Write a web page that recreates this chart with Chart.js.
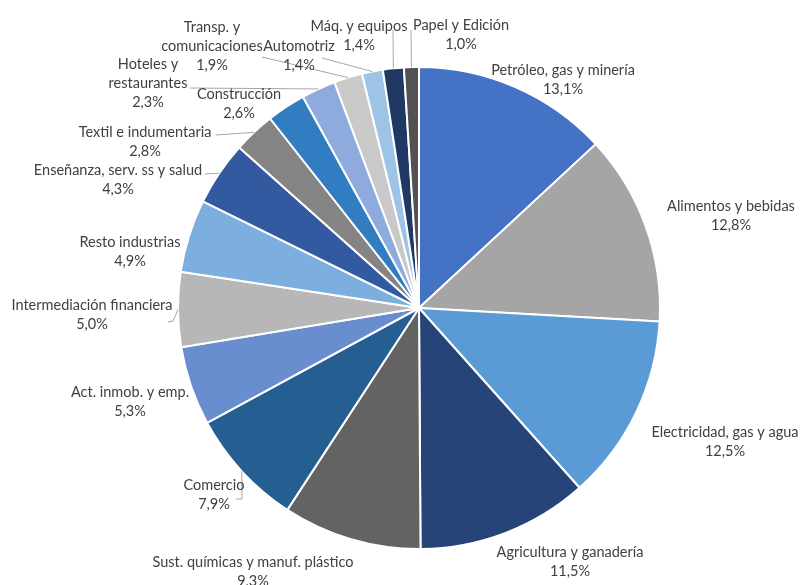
<!DOCTYPE html>
<html>
<head>
<meta charset="utf-8">
<script src="https://cdn.jsdelivr.net/npm/chart.js@4/dist/chart.umd.min.js"></script>
<style>
  html, body { margin: 0; padding: 0; background: #fff; }
  canvas { display: block; }
</style>
</head>
<body>
<canvas id="sectorChart" width="803" height="585"></canvas>
<script>
// Participación por sector (%)
const sectors = [
    ['Petróleo, gas y minería'],
    ['Alimentos y bebidas'],
    ['Electricidad, gas y agua'],
    ['Agricultura y ganadería'],
    ['Sust. químicas y manuf. plástico'],
    ['Comercio'],
    ['Act. inmob. y emp.'],
    ['Intermediación financiera'],
    ['Resto industrias'],
    ['Enseñanza, serv. ss y salud'],
    ['Textil e indumentaria'],
    ['Construcción'],
    ['Hoteles y', 'restaurantes'],
    ['Transp. y', 'comunicaciones'],
    ['Automotriz'],
    ['Máq. y equipos'],
    ['Papel y Edición']
];
const shares = [13.1, 12.8, 12.5, 11.5, 9.3, 7.9, 5.3, 5.0, 4.9, 4.3, 2.8, 2.6, 2.3, 1.9, 1.4, 1.4, 1.0];
const sliceColors = [
    '#4472C4', '#A5A5A5', '#5B9BD5', '#264478', '#636363', '#255E91',
    '#698ED0', '#B7B7B7', '#7CAFDD', '#335AA1', '#848484', '#327DC2',
    '#8FAADC', '#C9C9C9', '#9DC3E6', '#203864', '#525252'
];

// where each label's first line is centred
const labelAt = [
    [563, 70], [731, 206], [725, 432], [570, 552], [253, 562], [214, 485],
    [130, 392], [92, 305], [130, 242], [118, 170], [145, 132], [239, 94],
    [148, 64], [212, 27], [299, 46], [359, 26], [461, 25]
];
// leader line waypoints, starting from the slice edge
const leaders = {
    5: [[242, 499], [236, 499]],
    7: [[173, 321], [168, 322]],
    9: [[205, 174]],
    10: [[216, 135]],
    12: [[190, 88]],
    13: [[262, 57]],
    14: [[322, 58]],
    15: [[393, 30]],
    16: [[411, 30]]
};

const LINE_H = 19;

const sliceLabels = {
    id: 'sliceLabels',
    afterDatasetsDraw(chart) {
        const ctx = chart.ctx;
        const arcs = chart.getDatasetMeta(0).data;
        ctx.save();

        // leader lines
        ctx.strokeStyle = '#A6A6A6';
        ctx.lineWidth = 1;
        arcs.forEach((arc, i) => {
            const pts = leaders[i];
            if (!pts) return;
            const p = arc.getProps(['x', 'y', 'startAngle', 'endAngle', 'outerRadius'], true);
            const mid = (p.startAngle + p.endAngle) / 2;
            ctx.beginPath();
            ctx.moveTo(p.x + Math.cos(mid) * p.outerRadius, p.y + Math.sin(mid) * p.outerRadius);
            pts.forEach(pt => ctx.lineTo(pt[0], pt[1]));
            ctx.stroke();
        });

        // names and percentages
        ctx.fillStyle = '#404040';
        ctx.font = '14.5px Lato, "Open Sans", sans-serif';
        ctx.textAlign = 'center';
        ctx.textBaseline = 'middle';
        sectors.forEach((lines, i) => {
            const [x, y] = labelAt[i];
            const rows = lines.concat([shares[i].toFixed(1).replace('.', ',') + '%']);
            rows.forEach((t, k) => ctx.fillText(t, x, y + k * LINE_H));
        });
        ctx.restore();
    }
};

new Chart(document.getElementById('sectorChart'), {
    type: 'pie',
    data: {
        labels: sectors.map(s => s.join(' ')),
        datasets: [{
            data: shares,
            backgroundColor: sliceColors,
            borderColor: '#FFFFFF',
            borderWidth: 2
        }]
    },
    options: {
        responsive: false,
        animation: false,
        layout: { padding: { left: 177, right: 142, top: 66, bottom: 35 } },
        plugins: {
            legend: { display: false },
            tooltip: { enabled: false }
        }
    },
    plugins: [sliceLabels]
});
</script>
</body>
</html>
